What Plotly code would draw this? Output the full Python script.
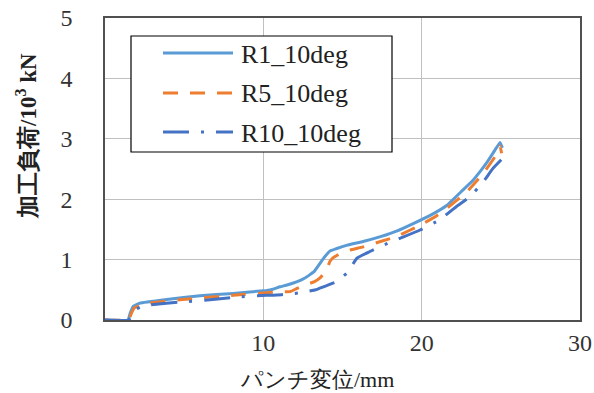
import plotly.graph_objects as go

# ---- data ----
r1_x = [0, 1.45, 1.6, 1.8, 2.2, 3.9, 6.0, 8.1, 10.2, 10.6, 11.05, 11.5, 12.1, 12.6, 13.2, 13.8, 14.2,
        14.6, 15.3, 16.3, 17.4, 18.5, 19.5, 20.6, 21.6, 22.6, 23.2, 23.7, 24.1, 24.5, 24.95, 25.1]
r1_y = [0, 0, 0.12, 0.23, 0.28, 0.34, 0.40, 0.44, 0.49, 0.51, 0.55, 0.58, 0.63, 0.69, 0.80, 1.02, 1.14,
        1.18, 1.24, 1.30, 1.38, 1.48, 1.60, 1.74, 1.90, 2.15, 2.30, 2.46, 2.60, 2.76, 2.94, 2.85]

r5_x = [0, 1.5, 1.65, 1.85, 2.3, 2.84, 4.9, 8.1, 10.2, 11.05, 11.7, 12.1, 12.6, 13.2, 13.6, 14.0, 14.2,
        14.4, 14.85, 15.5, 16.3, 17.4, 18.4, 19.9, 20.8, 21.6, 22.85, 23.9, 24.7, 24.95, 25.05]
r5_y = [0, 0, 0.10, 0.20, 0.25, 0.28, 0.34, 0.41, 0.45, 0.47, 0.47, 0.52, 0.58, 0.63, 0.70, 0.83, 0.97,
        1.03, 1.10, 1.16, 1.21, 1.30, 1.38, 1.57, 1.70, 1.85, 2.12, 2.43, 2.73, 2.88, 2.76]

r10_x = [0, 1.5, 1.7, 1.9, 2.3, 2.84, 4.9, 6.45, 8.1, 10.2, 10.6, 11.7, 12.3, 12.7, 13.3, 13.8, 14.6,
         15.25, 15.6, 15.9, 16.3, 16.7, 17.6, 18.6, 19.9, 21.15, 22.2, 23.05, 23.9, 24.5, 25.05]
r10_y = [0, 0, 0.08, 0.17, 0.22, 0.25, 0.30, 0.33, 0.375, 0.41, 0.41, 0.43, 0.45, 0.47, 0.50, 0.55, 0.63,
         0.77, 0.90, 1.02, 1.08, 1.13, 1.24, 1.35, 1.49, 1.66, 1.88, 2.04, 2.29, 2.51, 2.66]

names = ["R1_10deg", "R5_10deg", "R10_10deg"]
x_ticks = [10, 20, 30]
y_ticks = [0, 1, 2, 3, 4, 5]
x_title = "パンチ変位/mm"
y_title = "加工負荷/10<sup>3</sup> kN"

SERIF = "Liberation Serif"
colors = ["#5B9BD5", "#ED7D31", "#4472C4"]
dashes = ["solid", "15px,12px", "26px,12px,3px,12px"]

W, H = 594, 393
ML, MR, MT, MB = 105, 14, 18, 73
PW, PH = W - ML - MR, H - MT - MB


def px(x):
    return (x - ML) / PW


def py(y):
    return (H - MB - y) / PH


fig = go.Figure()
for xs, ys, nm, c, d in zip([r1_x, r5_x, r10_x], [r1_y, r5_y, r10_y], names, colors, dashes):
    fig.add_trace(go.Scatter(x=xs, y=ys, mode="lines", name=nm, showlegend=False,
                             line=dict(color=c, width=3, dash=d, shape="spline", smoothing=0.3)))

# legend drawn as a boxed key (paper coordinates)
shapes = [dict(type="rect", xref="paper", yref="paper", x0=px(131), x1=px(392), y0=py(36), y1=py(152),
               line=dict(color="black", width=1.2), fillcolor="white", layer="above")]
annotations = []
rows = [53, 93, 132]
for nm, c, d, ry in zip(names, colors, dashes, rows):
    shapes.append(dict(type="line", xref="paper", yref="paper", x0=px(163), x1=px(233), y0=py(ry), y1=py(ry),
                       line=dict(color=c, width=3, dash=d), layer="above"))
    annotations.append(dict(text=nm, xref="paper", yref="paper", x=px(239), y=py(ry + 1),
                            xanchor="left", yanchor="middle", showarrow=False,
                            font=dict(family=SERIF, size=26, color="#222222")))

annotations += [
    dict(text=x_title, xref="paper", yref="paper", x=px(317), y=py(380),
         xanchor="center", yanchor="middle", showarrow=False,
         font=dict(family=SERIF, size=22, color="#222222")),
    dict(text="<b>" + y_title + "</b>", xref="paper", yref="paper", x=px(26), y=py(136),
         xanchor="center", yanchor="middle", showarrow=False, textangle=-90,
         font=dict(family=SERIF, size=23, color="#222222")),
]

fig.update_layout(
    width=W, height=H,
    margin=dict(l=ML, r=MR, t=MT, b=MB, autoexpand=False),
    paper_bgcolor="white", plot_bgcolor="white",
    font=dict(family=SERIF, size=24, color="#333333"),
    showlegend=False,
    xaxis=dict(range=[0, 30], tickvals=x_ticks, ticktext=[str(v) for v in x_ticks],
               showgrid=True, gridcolor="#C0C0C0", gridwidth=1.3,
               showline=True, mirror=True, linecolor="#505050", linewidth=1.5,
               zeroline=False, ticks="", ticklabelstandoff=0, automargin=False,
               tickfont=dict(family=SERIF, size=24, color="#333333")),
    yaxis=dict(range=[0, 5], tickvals=y_ticks, ticktext=[str(v) for v in y_ticks],
               showgrid=True, gridcolor="#C0C0C0", gridwidth=1.3,
               showline=True, mirror=True, linecolor="#505050", linewidth=1.5,
               zeroline=False, ticks="", ticklabelstandoff=26, automargin=False,
               tickfont=dict(family=SERIF, size=24, color="#333333")),
    shapes=shapes,
    annotations=annotations,
)

fig.write_html("out.html", config={"displayModeBar": False},
               post_script="document.body.style.margin='0';")
